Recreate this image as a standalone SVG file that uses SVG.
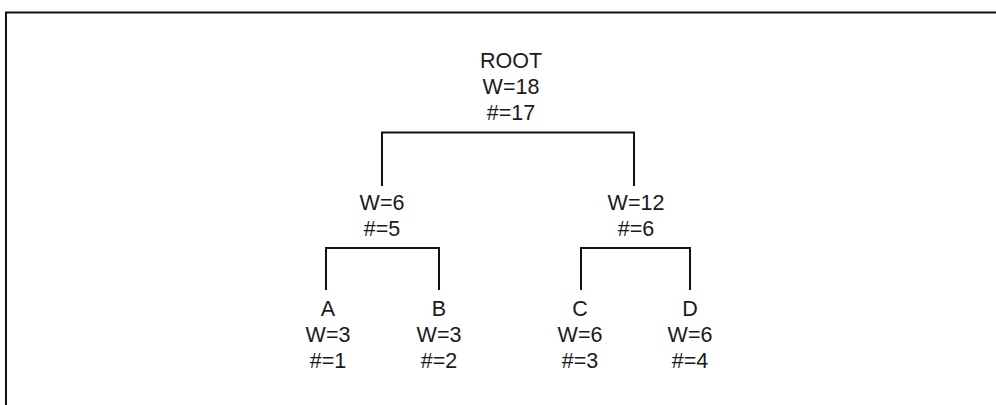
<svg xmlns="http://www.w3.org/2000/svg" width="996" height="405" viewBox="0 0 996 405">
<style>
.t{font-family:"Liberation Sans",Arial,sans-serif;font-size:21.5px;fill:#1a1a1a;text-anchor:middle}
.c{fill:none;stroke:#111;stroke-width:2}
</style>
<rect width="996" height="405" fill="#fff"/>
<path d="M6,405 V12.5 H996" fill="none" stroke="#111" stroke-width="2"/>
<g id="connectors">
<path class="c" d="M382,186 V132.5 H634 V186"/>
<path class="c" d="M326,290 V248 H439 V290"/>
<path class="c" d="M581,290 V248 H690 V290"/>
</g>
<g id="root"><text class="t" x="511" y="67.5">ROOT</text><text class="t" x="511" y="94">W=18</text><text class="t" x="511" y="120">#=17</text></g>
<g id="n6"><text class="t" x="382" y="210">W=6</text><text class="t" x="382" y="235.5">#=5</text></g>
<g id="n12"><text class="t" x="636" y="210">W=12</text><text class="t" x="636" y="235.5">#=6</text></g>
<g id="A"><text class="t" x="328" y="316">A</text><text class="t" x="328" y="342">W=3</text><text class="t" x="328" y="367.5">#=1</text></g>
<g id="B"><text class="t" x="439" y="316">B</text><text class="t" x="439" y="342">W=3</text><text class="t" x="439" y="367.5">#=2</text></g>
<g id="C"><text class="t" x="580" y="316">C</text><text class="t" x="580" y="342">W=6</text><text class="t" x="580" y="367.5">#=3</text></g>
<g id="D"><text class="t" x="690" y="316">D</text><text class="t" x="690" y="342">W=6</text><text class="t" x="690" y="367.5">#=4</text></g>
</svg>
